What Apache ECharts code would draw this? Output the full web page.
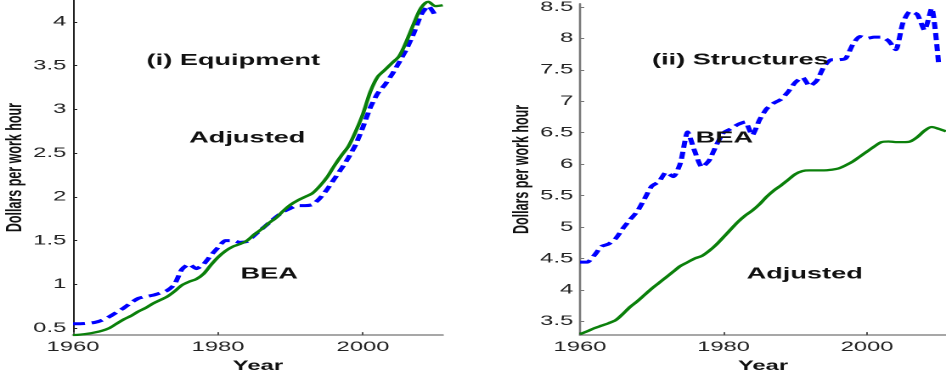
<!DOCTYPE html>
<html><head><meta charset="utf-8">
<script src="https://cdn.jsdelivr.net/npm/echarts@6/dist/echarts.min.js"></script>
<style>
html,body{margin:0;padding:0;background:#fff;overflow:hidden;width:946px;height:378px}
#c{width:557px;height:378px;transform:scaleX(1.69838);transform-origin:0 0;}
</style>
</head><body><div id="c"></div>
<script>
const years = [1960,1961,1962,1963,1964,1965,1966,1967,1968,1969,1970,1971,1972,1973,1974,1975,1976,1977,1978,1979,1980,1981,1982,1983,1984,1985,1986,1987,1988,1989,1990,1991,1992,1993,1994,1995,1996,1997,1998,1999,2000,2001,2002,2003,2004,2005,2006,2007,2008,2009,2010,2011];

const equipAdjusted = [0.42,0.425,0.435,0.45,0.47,0.50,0.55,0.60,0.64,0.69,0.73,0.78,0.82,0.86,0.92,0.99,1.03,1.06,1.12,1.22,1.31,1.38,1.43,1.46,1.50,1.57,1.63,1.70,1.76,1.84,1.91,1.96,2.00,2.04,2.12,2.22,2.35,2.47,2.58,2.75,2.95,3.20,3.37,3.45,3.53,3.61,3.78,3.98,4.16,4.23,4.18,4.19];
const equipBEA = [0.55,0.55,0.555,0.565,0.59,0.63,0.68,0.73,0.79,0.84,0.86,0.875,0.90,0.93,1.00,1.17,1.23,1.18,1.23,1.33,1.42,1.50,1.50,1.48,1.49,1.56,1.63,1.70,1.77,1.83,1.87,1.90,1.90,1.91,1.98,2.08,2.20,2.32,2.45,2.60,2.80,3.02,3.18,3.28,3.40,3.54,3.69,3.87,4.08,4.18,4.07];

const structAdjusted = [3.295,3.34,3.39,3.43,3.47,3.52,3.62,3.73,3.82,3.92,4.02,4.11,4.20,4.29,4.38,4.44,4.50,4.54,4.62,4.72,4.84,4.96,5.08,5.18,5.26,5.36,5.48,5.58,5.66,5.75,5.84,5.89,5.90,5.90,5.90,5.91,5.93,5.98,6.04,6.12,6.20,6.28,6.35,6.36,6.35,6.35,6.36,6.43,6.53,6.59,6.56,6.52];
const structBEA = [4.44,4.44,4.55,4.69,4.73,4.82,4.98,5.12,5.25,5.45,5.65,5.72,5.87,5.80,6.02,6.51,6.20,5.95,6.06,6.30,6.50,6.56,6.63,6.67,6.46,6.70,6.88,6.97,7.03,7.15,7.30,7.38,7.24,7.33,7.55,7.66,7.66,7.68,7.90,8.03,8.00,8.02,8.02,7.96,7.82,8.25,8.43,8.38,8.13,8.48,7.56];

const xTicks = [1960,1980,2000];
const yTicksEquip = [0.5,1,1.5,2,2.5,3,3.5,4];
const yTicksStruct = [3.5,4,4.5,5,5.5,6,6.5,7,7.5,8,8.5];

const pairs = arr => arr.map((v,i) => [years[i], v]);

const FONT = 'Liberation Sans, Arial, sans-serif';
const GREEN = '#0b800b', BLUE = '#0000ff';

function xAxis(gi) {
  return {
    type:'value', gridIndex:gi, min:1960, max:2011,
    name:'Year', nameLocation:'middle', nameGap:16,
    nameTextStyle:{fontFamily:FONT, fontWeight:'bold', fontSize:14, color:'#111'},
    axisLine:{show:true, lineStyle:{color:'#8a8a8a', width:1.5}},
    axisTick:{show:true, inside:true, length:3, customValues:xTicks, lineStyle:{color:'#555'}},
    axisLabel:{customValues:xTicks, formatter:v=>String(v), fontFamily:FONT, fontSize:14, color:'#222', margin:5},
    splitLine:{show:false}
  };
}
function yAxis(gi, min, max, ticks, color, w) {
  return {
    type:'value', gridIndex:gi, min:min, max:max,
    name:'Dollars per work hour', nameLocation:'middle', nameGap:27, nameRotate:90,
    nameTextStyle:{fontFamily:FONT, fontWeight:'bold', fontSize:12.5, color:'#111'},
    axisLine:{show:true, lineStyle:{color:color, width:w}},
    axisTick:{show:true, inside:true, length:2.5, customValues:ticks, lineStyle:{color:color}},
    axisLabel:{customValues:ticks, fontFamily:FONT, fontSize:14, color:'#222', margin:4},
    splitLine:{show:false}
  };
}
function txt(x, y, s) {
  return {type:'text', x:x, y:y, z:100, style:{text:s, fill:'#111', font:'bold 16px ' + FONT, textAlign:'center', textVerticalAlign:'middle'}};
}

const chart = echarts.init(document.getElementById('c'), null, {devicePixelRatio:2});
chart.setOption({
  animation:false,
  backgroundColor:'#fff',
  grid:[
    {left:43, top:0, width:217.7, height:341},
    {left:341.5, top:0, width:217.7, height:342}
  ],
  xAxis:[xAxis(0), xAxis(1)],
  yAxis:[yAxis(0, 0.42, 4.25, yTicksEquip, '#222', 1), yAxis(1, 3.28, 8.55, yTicksStruct, '#777', 1.3)],
  series:[
    {type:'line', xAxisIndex:0, yAxisIndex:0, data:pairs(equipBEA), showSymbol:false, smooth:0.2,
     lineStyle:{color:BLUE, width:3, type:[7,4]}},
    {type:'line', xAxisIndex:0, yAxisIndex:0, data:pairs(equipAdjusted), showSymbol:false, smooth:0.3,
     lineStyle:{color:GREEN, width:2.3}},
    {type:'line', xAxisIndex:1, yAxisIndex:1, data:pairs(structBEA), showSymbol:false, smooth:0.2,
     lineStyle:{color:BLUE, width:3, type:[7,4]}},
    {type:'line', xAxisIndex:1, yAxisIndex:1, data:pairs(structAdjusted), showSymbol:false, smooth:0.3,
     lineStyle:{color:GREEN, width:2.3}}
  ],
  graphic:[
    txt(137.4, 60.5, '(i) Equipment'),
    txt(145.6, 138, 'Adjusted'),
    txt(158.5, 274, 'BEA'),
    txt(435.9, 60, '(ii) Structures'),
    txt(426.5, 138, 'BEA'),
    txt(473.8, 274, 'Adjusted')
  ]
});
</script>
</body></html>
